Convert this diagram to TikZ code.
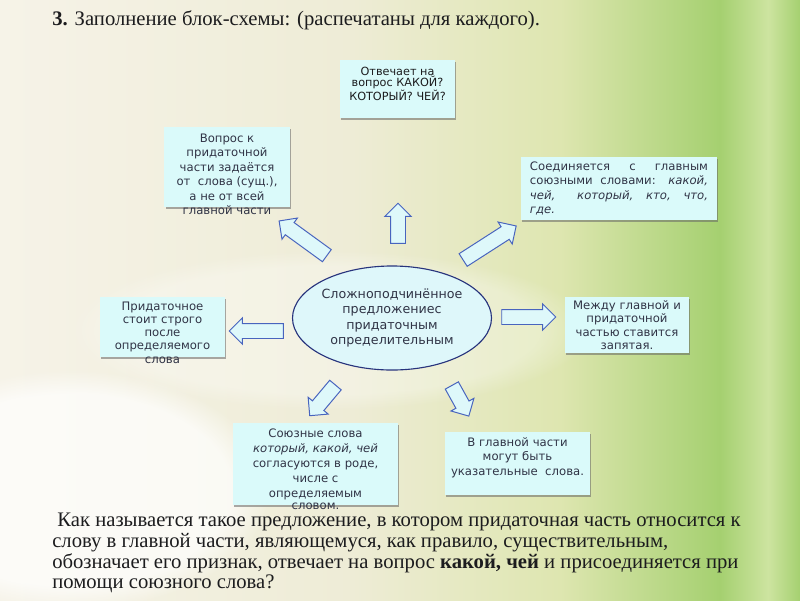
\documentclass[tikz,border=0pt]{standalone}
\usepackage{fontspec}
\setmainfont{Liberation Serif}
\setsansfont{DejaVu Sans}
\usepackage{tikz}
\usetikzlibrary{shapes.geometric, shapes.arrows, shadows, fadings, positioning}
\definecolor{bgcream}{RGB}{246,243,232}
\definecolor{bgcreamb}{RGB}{238,236,214}
\definecolor{bgmid}{RGB}{222,230,176}
\definecolor{bggreen}{RGB}{165,208,112}
\definecolor{bglight}{RGB}{205,228,160}
\definecolor{cardfill}{RGB}{218,250,250}
\definecolor{cardtext}{RGB}{48,52,70}
\definecolor{hubfill}{RGB}{222,247,250}
\definecolor{hubline}{RGB}{40,52,125}
\definecolor{arrowline}{RGB}{72,100,190}
\definecolor{arrowfill}{RGB}{222,248,250}
\definecolor{inktext}{RGB}{28,28,30}
\pgfdeclarehorizontalshading{slide}{100bp}{color(0bp)=(bgcream); color(25bp)=(bgcream);
  color(47bp)=(bgcreamb); color(60bp)=(bgmid); color(70bp)=(bggreen);
  color(73bp)=(bglight); color(75bp)=(bggreen); color(100bp)=(bggreen)}
\newcommand{\cardfont}{\sffamily\fontsize{8.3}{10.3}\selectfont}
\tikzset{
  card/.style={rectangle, fill=cardfill, text=cardtext, align=center,
    inner sep=2pt, font=\cardfont,
    drop shadow={shadow xshift=1pt, shadow yshift=-1.2pt, opacity=0.55, fill=black!60}},
  spill/.style={anchor=center, inner sep=0pt, font=\cardfont, text=cardtext},
  hub/.style={ellipse, draw=hubline, fill=hubfill, text=cardtext, align=center,
    minimum width=4.85cm, minimum height=2.6cm, inner sep=0pt, line width=0.8pt,
    font=\sffamily\fontsize{9}{11}\selectfont},
  blockarrow/.style={single arrow, draw=arrowline, fill=arrowfill, line width=0.7pt,
    inner xsep=0pt, inner ysep=0.175cm, single arrow head extend=0.14cm}
}

\begin{document}
\begin{tikzpicture}[x=0.025cm, y=-0.025cm]
  \useasboundingbox (0,0) rectangle (800,600);
  % Background
  \shade[shading=slide] (0,0) rectangle (800,600);
  \fill[white, opacity=0.7, path fading=circle with fuzzy edge 20 percent] (70,490) ellipse [x radius=200, y radius=120];
  \fill[white, opacity=0.3, path fading=circle with fuzzy edge 20 percent] (330,330) ellipse [x radius=260, y radius=80];

  % Title
  \node[anchor=west, inner sep=0pt, text=inktext, font=\fontsize{14.7}{16}\selectfont] (title) at (52,20)
    {\textbf{3.} Заполнение блок-схемы: (распечатаны для каждого).};

  % Centre
  \node[hub] (c) at (392,318) {Сложноподчинённое\\предложениес\\придаточным\\определительным};

  % Boxes
  \node[card, minimum width=2.875cm, minimum height=1.45cm, text=inktext,
    font=\sffamily\fontsize{8}{7.8}\selectfont] (t) at (397.5,89)
    {Отвечает на\\вопрос КАКОЙ?\\КОТОРЫЙ? ЧЕЙ?\\ \mbox{}};
  \node[card, minimum width=3.125cm, minimum height=2cm,
    label={[spill, yshift=-0.075cm]south:главной части}] (tl) at (227,167)
    {Вопрос к\\придаточной\\части задаётся\\от\ \ слова (сущ.),\\а не от всей};
  \node[card, minimum width=4.9cm, minimum height=1.575cm, text width=4.45cm, align=justify,
    font=\sffamily\fontsize{8.3}{10.2}\selectfont] (tr) at (619,188.5)
    {Соединяется с главным\linebreak союзными словами: \textit{какой,}\linebreak
     \textit{чей,\ \ который, кто, что,}\linebreak \textit{где.}};
  \node[card, minimum width=3.125cm, minimum height=1.5cm,
    font=\sffamily\fontsize{8.3}{9.3}\selectfont,
    label={[spill, yshift=-0.075cm]south:слова}] (l) at (162.5,327)
    {Придаточное\\стоит строго\\после\\определяемого};
  \node[card, minimum width=3.1cm, minimum height=1.4cm,
    font=\sffamily\fontsize{8.3}{9.5}\selectfont] (r) at (627,325)
    {Между главной и\\придаточной\\частью ставится\\запятая.};
  \node[card, minimum width=4.125cm, minimum height=2.05cm,
    font=\sffamily\fontsize{8.3}{10.7}\selectfont,
    label={[spill, yshift=-0.025cm]south:словом.}] (bl) at (315.5,464)
    {Союзные слова\\\textit{который, какой, чей}\\согласуются в роде,\\числе с\\определяемым};
  \node[card, minimum width=3.625cm, minimum height=1.575cm] (br) at (517.5,463.5)
    {В главной части\\могут быть\\указательные\ \ слова.\\ \mbox{}};

  % Arrows
  \node[blockarrow, minimum height=1cm, rotate=90] (a-t) at (398,227) {};
  \node[blockarrow, minimum height=1.475cm, rotate=144] (a-tl) at (306,240.5) {};
  \node[blockarrow, minimum height=1.575cm, rotate=32.7] (a-tr) at (486.5,245) {};
  \node[blockarrow, minimum height=1.35cm, rotate=180] (a-l) at (260,331) {};
  \node[blockarrow, minimum height=1.35cm] (a-r) at (525,317) {};
  \node[blockarrow, minimum height=1cm, rotate=-130] (a-bl) at (325,397.5) {};
  \node[blockarrow, minimum height=0.875cm, rotate=-61] (a-br) at (458.5,397.5) {};

  % Question
  \node[anchor=north west, inner sep=0pt, align=left, text=inktext,
    font=\fontsize{14.7}{14.7}\selectfont] (q) at (52,513)
    {\ Как называется такое предложение, в котором придаточная часть относится к\\
     слову в главной части, являющемуся, как правило, существительным,\\
     обозначает его признак, отвечает на вопрос \textbf{какой, чей} и присоединяется при\\
     помощи союзного слова?};
\end{tikzpicture}
\end{document}
